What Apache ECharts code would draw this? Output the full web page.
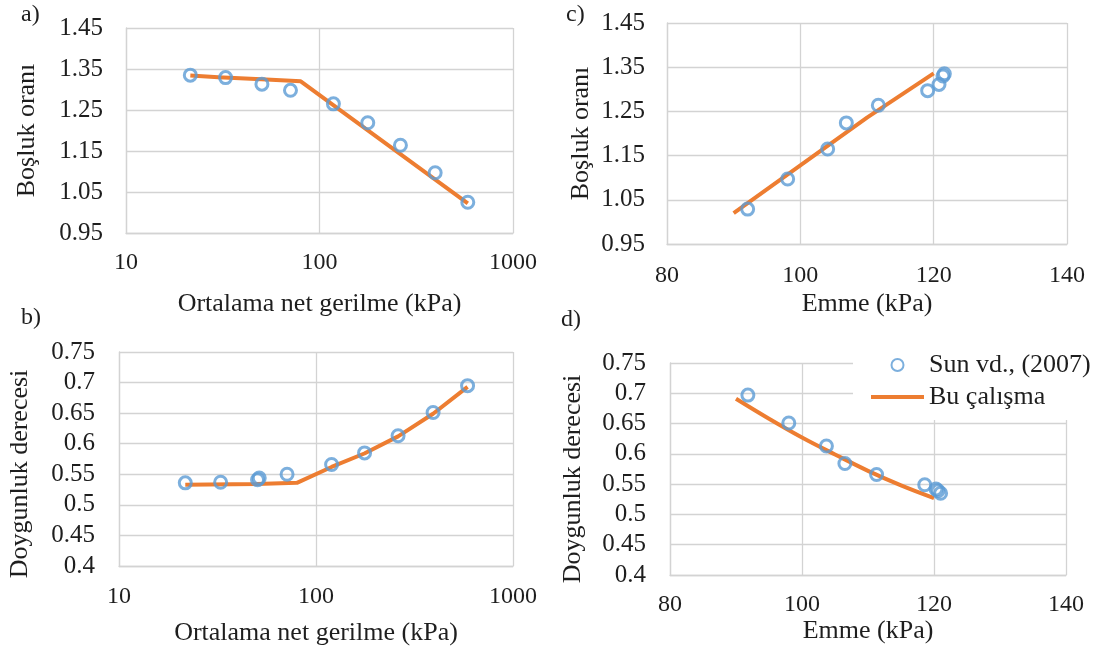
<!DOCTYPE html>
<html>
<head>
<meta charset="utf-8">
<script src="https://cdn.jsdelivr.net/npm/echarts@6/dist/echarts.min.js"></script>
<style>
  html, body { margin: 0; padding: 0; background: #fff; }
  #main { width: 1095px; height: 653px; }
</style>
</head>
<body>
<div id="main"></div>
<script>
// a) ortalama net gerilme - boşluk oranı
var netA = [21.5, 32.7, 50.4, 70.8, 118, 177.6, 262, 396, 584];
var eA = [1.335, 1.329, 1.313, 1.298, 1.265, 1.219, 1.164, 1.097, 1.025];
var fitNetA = [21.5, 30, 50, 80, 584];
var fitEA = [1.334, 1.330, 1.325, 1.320, 1.022];

// b) ortalama net gerilme - doygunluk derecesi
var netB = [21.7, 32.8, 50.5, 51.5, 71.3, 120, 176.4, 261, 393, 588];
var srB = [0.536, 0.537, 0.541, 0.544, 0.550, 0.566, 0.585, 0.613, 0.651, 0.695];
var fitNetB = [21.7, 50, 80, 120, 176, 261, 393, 588];
var fitSrB = [0.533, 0.534, 0.536, 0.562, 0.584, 0.612, 0.649, 0.693];

// c) emme - boşluk oranı
var sucC = [92.1, 98.1, 104.1, 106.9, 111.7, 119.1, 120.8, 121.4, 121.6];
var eC = [1.029, 1.097, 1.165, 1.224, 1.264, 1.297, 1.311, 1.330, 1.335];
var fitSucC = [90, 100, 110, 120];
var fitEC = [1.020, 1.128, 1.236, 1.336];

// d) emme - doygunluk derecesi
var sucD = [91.8, 98.0, 103.7, 106.5, 111.3, 118.6, 120.3, 120.6, 121.0];
var srD = [0.697, 0.651, 0.613, 0.584, 0.566, 0.549, 0.542, 0.539, 0.535];
var fitSucD = [90, 95, 100, 105, 110, 115, 120];
var fitSrD = [0.691, 0.658, 0.627, 0.599, 0.572, 0.548, 0.527];

// eksen etiketleri
var eTicks = [0.95, 1.05, 1.15, 1.25, 1.35, 1.45];

var font = 'Liberation Serif';
var textColor = '#1e1e1e';
var gridColor = '#d3d3d3';
var blue = '#5B9BD5';
var orange = '#ED7D31';

function pairs(xs, ys) {
  return xs.map(function (x, i) { return [x, ys[i]]; });
}

function xAxisOf(gridIndex, name, nameGap, margin, extra) {
  var ax = {
    gridIndex: gridIndex,
    name: name,
    nameLocation: 'middle',
    nameGap: nameGap,
    nameTextStyle: { fontFamily: font, fontSize: 26, color: textColor },
    axisLine: { show: true, lineStyle: { color: gridColor, width: 1.3 } },
    axisTick: { show: false },
    splitLine: { show: true, lineStyle: { color: gridColor, width: 1.3 } },
    axisLabel: { fontFamily: font, fontSize: 24, color: textColor, margin: margin,
      formatter: function (v) { return String(v); } }
  };
  for (var k in extra) ax[k] = extra[k];
  return ax;
}

function yAxisOf(gridIndex, name, nameGap, margin, pad, extra) {
  var ax = {
    gridIndex: gridIndex,
    type: 'value',
    name: name,
    nameLocation: 'middle',
    nameGap: nameGap,
    nameTextStyle: { fontFamily: font, fontSize: 26, color: textColor, padding: pad },
    axisLine: { show: true, lineStyle: { color: gridColor, width: 1.3 } },
    axisTick: { show: false },
    splitLine: { show: true, lineStyle: { color: gridColor, width: 1.3 } },
    axisLabel: { fontFamily: font, fontSize: 25, color: textColor, margin: margin }
  };
  for (var k in extra) ax[k] = extra[k];
  return ax;
}

function fitSeries(i, xs, ys, smooth) {
  return {
    name: 'Bu çalışma',
    type: 'line',
    xAxisIndex: i,
    yAxisIndex: i,
    data: pairs(xs, ys),
    symbol: 'none',
    smooth: smooth || false,
    lineStyle: { color: orange, width: 4 },
    itemStyle: { color: orange },
    z: 2
  };
}

function dataSeries(i, xs, ys) {
  return {
    name: 'Sun vd., (2007)',
    type: 'scatter',
    xAxisIndex: i,
    yAxisIndex: i,
    data: pairs(xs, ys),
    symbol: 'circle',
    symbolSize: 12,
    itemStyle: { color: 'rgba(255,255,255,0)', borderColor: blue, borderWidth: 3 },
    z: 3
  };
}

function panelLabel(txt, x, y) {
  return {
    type: 'text', left: x, top: y,
    style: { text: txt, font: '24px "Liberation Serif"', fill: textColor }
  };
}

var chart = echarts.init(document.getElementById('main'), null, { renderer: 'canvas' });

var option = {
  backgroundColor: '#fff',
  animation: false,
  grid: [
    { left: 126, top: 28, width: 387, height: 205 },
    { left: 119, top: 352, width: 394, height: 214 },
    { left: 667, top: 23, width: 400, height: 221 },
    { left: 670, top: 363, width: 396, height: 212 }
  ],
  xAxis: [
    xAxisOf(0, 'Ortalama net gerilme (kPa)', 58, 18, { type: 'log', logBase: 10, min: 10, max: 1000 }),
    xAxisOf(1, 'Ortalama net gerilme (kPa)', 54, 19, { type: 'log', logBase: 10, min: 10, max: 1000 }),
    xAxisOf(2, 'Emme (kPa)', 47, 20, { type: 'value', min: 80, max: 140, interval: 20 }),
    xAxisOf(3, 'Emme (kPa)', 43, 18, { type: 'value', min: 80, max: 140, interval: 20 })
  ],
  yAxis: [
    yAxisOf(0, 'Boşluk oranı', 86, 23, [0, 0, 0, 0], {
      min: 0.95, max: 1.45,
      axisTick: { show: false, customValues: eTicks },
      axisLabel: { fontFamily: font, fontSize: 25, color: textColor, margin: 23, customValues: eTicks,
        formatter: function (v) { return v.toFixed(2); } }
    }),
    yAxisOf(1, 'Doygunluk derecesi', 86, 24, [0, 30, 0, 0], { min: 0.4, max: 0.75, interval: 0.05 }),
    yAxisOf(2, 'Boşluk oranı', 73, 22, [0, 0, 0, 0], {
      min: 0.95, max: 1.45,
      axisTick: { show: false, customValues: eTicks },
      axisLabel: { fontFamily: font, fontSize: 25, color: textColor, margin: 22, customValues: eTicks,
        formatter: function (v) { return v.toFixed(2); } }
    }),
    yAxisOf(3, 'Doygunluk derecesi', 84, 24, [0, 20, 0, 0], { min: 0.4, max: 0.75, interval: 0.05 })
  ],
  legend: {
    data: [
      { name: 'Sun vd., (2007)', icon: 'circle' },
      // ince çizgi: üst/alt uçlardaki minik noktalar kutuyu 12px yüksek tutar
      { name: 'Bu çalışma', icon: 'path://M0,0L0.01,0L0,0.01Z M0,4L53,4L53,8L0,8Z M0,12L0.01,12L0,11.99Z' }
    ],
    orient: 'vertical',
    left: 853,
    top: 347,
    backgroundColor: '#fff',
    padding: [5, 12, 10, 18],
    itemWidth: 53,
    itemHeight: 12,
    itemGap: 6,
    textStyle: { fontFamily: font, fontSize: 26, color: textColor }
  },
  graphic: [
    panelLabel('a)', 21, 3),
    panelLabel('b)', 21, 306),
    panelLabel('c)', 566, 3),
    panelLabel('d)', 561, 308)
  ],
  series: [
    fitSeries(0, fitNetA, fitEA),
    dataSeries(0, netA, eA),
    fitSeries(1, fitNetB, fitSrB),
    dataSeries(1, netB, srB),
    fitSeries(2, fitSucC, fitEC),
    dataSeries(2, sucC, eC),
    fitSeries(3, fitSucD, fitSrD, 0.4),
    dataSeries(3, sucD, srD)
  ]
};

chart.setOption(option);
</script>
</body>
</html>
